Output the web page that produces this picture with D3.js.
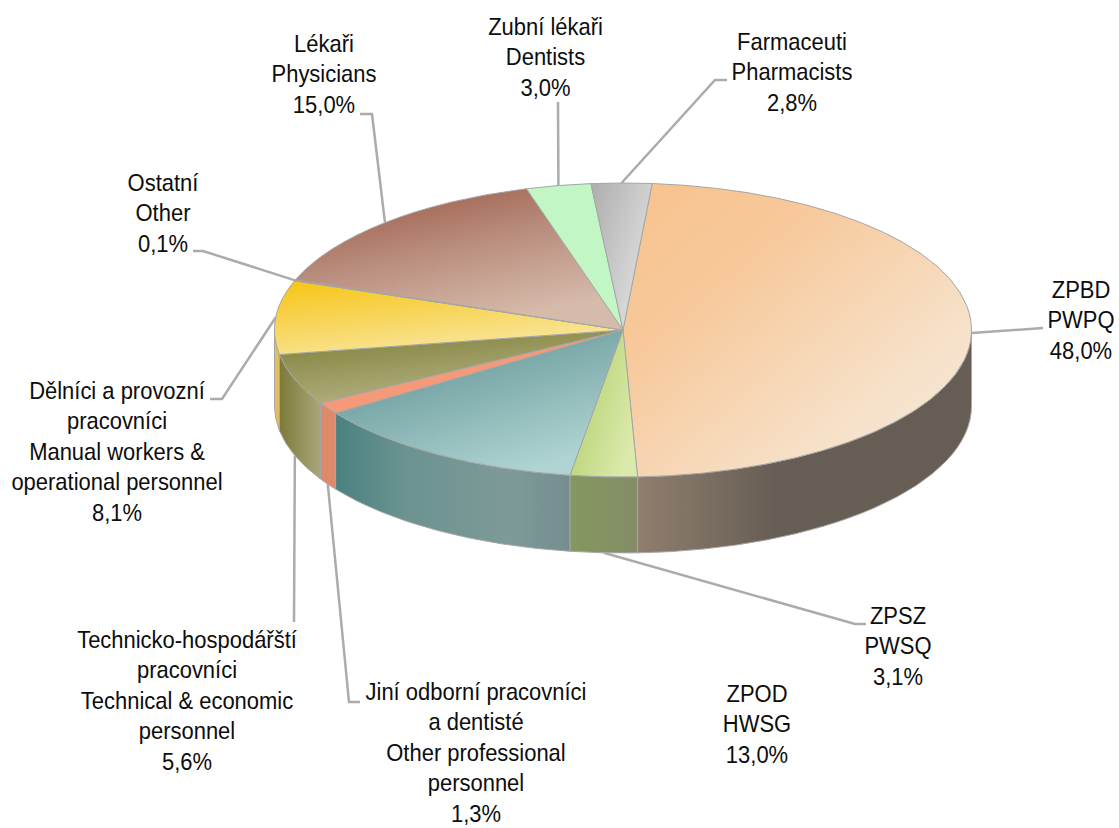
<!DOCTYPE html>
<html>
<head>
<meta charset="utf-8">
<script src="https://cdn.jsdelivr.net/npm/d3@7"></script>
<style>html,body{margin:0;padding:0;background:#fff}svg{display:block}</style>
</head>
<body>
<svg id="c" width="1119" height="828"></svg>
<script>
// --- data ---
const keys = ["ZPBD","ZPSZ","ZPOD","Jini","Tech","Delnici","Ostatni","Lekari","Zubni","Farm"];
const values = [48.0,3.1,13.0,1.3,5.6,8.1,0.1,15.0,3.0,2.8];
const percentLabels = ["48,0%","3,1%","13,0%","1,3%","5,6%","8,1%","0,1%","15,0%","3,0%","2,8%"];
const categoryLines = [
  ["ZPBD","PWPQ"],
  ["ZPSZ","PWSQ"],
  ["ZPOD","HWSG"],
  ["Jiní odborní pracovníci","a dentisté","Other professional","personnel"],
  ["Technicko-hospodářští","pracovníci","Technical & economic","personnel"],
  ["Dělníci a provozní","pracovníci","Manual workers &","operational personnel"],
  ["Ostatní","Other"],
  ["Lékaři","Physicians"],
  ["Zubní lékaři","Dentists"],
  ["Farmaceuti","Pharmacists"]
];
// --- style ---
const topStops = [
  [[0,"#f7c38e"],[.3,"#f7c89a"],[.75,"#f6e2cb"],[1,"#f6e8d8"]],
  [[.1,"#aecf6c"],[1,"#dbe9aa"]],
  [[0,"#4d8d8e"],[.5,"#82aeae"],[1,"#aed3d1"]],
  [[0,"#f59a78"],[1,"#f59a78"]],
  [[0,"#7b7c34"],[1,"#b6b486"]],
  [[0,"#f7c414"],[1,"#f8e69e"]],
  [[0,"#a0604c"],[1,"#a0604c"]],
  [[.05,"#9b5846"],[.55,"#bb9080"],[1,"#d6bbab"]],
  [[0,"#c3f6c5"],[1,"#c3f6c5"]],
  [[.05,"#b0b0b0"],[.95,"#dfdfdf"]]
];
const topDir = [[1,1],[1,.6],[.6,1],[1,1],[.5,1],[.5,1],[1,1],[.5,1],[1,1],[1,.7]];
const sideStops = [
  [[0,"#907e6e"],[.2,"#7c6f62"],[.42,"#665d54"],[1,"#665d54"]],
  [[0,"#84985e"],[1,"#848c68"]],
  [[0,"#4a8180"],[.3,"#6b9390"],[.75,"#7e9a98"],[1,"#758d90"]],
  [[0,"#dd8a6b"],[1,"#dd8a6b"]],
  [[0,"#7b7a38"],[1,"#a9a77c"]],
  [[0,"#e3bf5c"],[1,"#e3bf5c"]],
  [[0,"#a0604c"],[1,"#a0604c"]],
  [[0,"#8a5040"],[1,"#8a5040"]],
  [[0,"#a0d0a0"],[1,"#a0d0a0"]],
  [[0,"#999"],[1,"#999"]]
];
// --- layout (label centres, first baselines, leader elbows) ---
const W=1119,H=828,cx=623,cy=330,rx=348.5,ry=147,depth=76;
const startDeg=4.8,lineH=30.4,fontPx=24,squeeze=.915;
const labelPos = [[1081,298],[898,624],[757,702],[476,700],[187,648],[117,399],[163,191],[324,52],[545.5,35],[792,50]];
const leaderPts = [
  [[1043,328]],
  [[855,624],[866,624]],
  null,
  [[349,702],[360,702]],
  [[294,622]],
  [[222,399],[210,399]],
  [[203,251],[193,251]],
  [[372,114],[360,114]],
  [[558,102]],
  [[715,80],[727,80]]
];

const svg=d3.select("#c");
const defs=svg.append("defs");
const pie=d3.pie().sort(null).value(d=>d)
  .startAngle(startDeg*Math.PI/180).endAngle(startDeg*Math.PI/180+2*Math.PI);
const slices=pie(values);
const px=a=>cx+rx*Math.sin(a), py=a=>cy-ry*Math.cos(a);

function grad(id,stops,x2,y2){
  const g=defs.append("linearGradient").attr("id",id)
    .attr("x1",0).attr("y1",0).attr("x2",x2).attr("y2",y2);
  stops.forEach(s=>g.append("stop").attr("offset",s[0]).attr("stop-color",s[1]));
}
keys.forEach((k,i)=>{ grad("t"+i,topStops[i],topDir[i][0],topDir[i][1]); grad("s"+i,sideStops[i],1,0); });

// side walls: the part of each slice between 90° and 270° faces the viewer
const gSide=svg.append("g").attr("stroke","#a6a6a6").attr("stroke-width",1);
slices.forEach((s,i)=>{
  const a=Math.max(s.startAngle,Math.PI/2), b=Math.min(s.endAngle,Math.PI*1.5);
  if(b<=a) return;
  const d=`M${px(a)},${py(a)}A${rx},${ry} 0 0 1 ${px(b)},${py(b)}`+
          `L${px(b)},${py(b)+depth}A${rx},${ry} 0 0 0 ${px(a)},${py(a)+depth}Z`;
  gSide.append("path").attr("d",d).attr("fill",`url(#s${i})`);
});

// top face: circular arcs flattened into an ellipse
const arc=d3.arc().innerRadius(0).outerRadius(rx);
svg.append("g").attr("transform",`translate(${cx},${cy}) scale(1,${ry/rx})`)
  .selectAll("path").data(slices).join("path")
  .attr("d",arc)
  .attr("fill",(d,i)=>`url(#t${i})`)
  .attr("stroke","#a6a6a6").attr("stroke-width",1)
  .attr("vector-effect","non-scaling-stroke");

// leader lines
const line=d3.line();
slices.forEach((s,i)=>{
  if(!leaderPts[i]) return;
  const m=(s.startAngle+s.endAngle)/2;
  const front=Math.cos(m)<0 && i>0 && Math.abs(m-Math.PI)<Math.PI/2;
  const start=[px(m),py(m)+(front?depth:0)];
  svg.append("path").attr("d",line([start,...leaderPts[i]]))
    .attr("fill","none").attr("stroke","#ababab").attr("stroke-width",2.5);
});

// labels
categoryLines.forEach((ls,i)=>{
  const all=[...ls,percentLabels[i]];
  const [x,y]=labelPos[i];
  all.forEach((t,j)=>{
    svg.append("text").attr("transform",`translate(${x},${y+j*lineH}) scale(${squeeze},1)`)
      .attr("text-anchor","middle")
      .attr("font-family","'Liberation Sans',Arial,sans-serif")
      .attr("font-size",fontPx).attr("fill","#0d0d0d").text(t);
  });
});
</script>
</body>
</html>
